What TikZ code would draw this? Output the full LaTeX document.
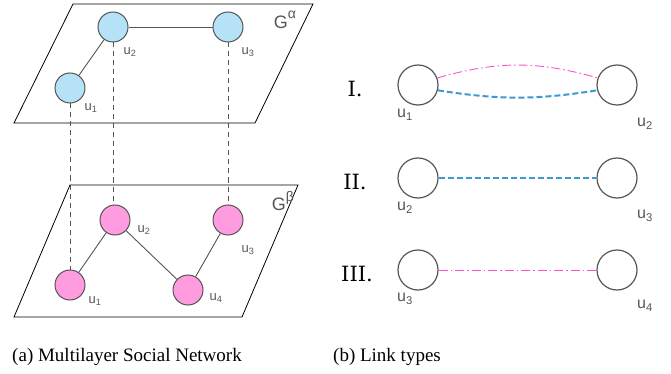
\documentclass[tikz,border=0pt]{standalone}
\usepackage{fontspec}
\setmainfont{Liberation Serif}
\newfontfamily\labelfont{Liberation Sans}
\newfontfamily\numfont{DejaVu Serif}
\usetikzlibrary{positioning,calc}

\definecolor{nodegray}{HTML}{555555}
\definecolor{bluefill}{HTML}{B5E2F7}
\definecolor{pinkfill}{HTML}{FF9BDF}
\definecolor{linkblue}{HTML}{3D9AD1}
\definecolor{linkpink}{HTML}{FF4FD2}

\newcommand{\layersup}[1]{G\raisebox{0.55em}{\fontsize{14}{16}\selectfont #1}}

\begin{document}
\begin{tikzpicture}[
  x=1pt, y=-1pt,
  plane/.style={draw=black, line width=0.8pt},
  user/.style={
    circle, draw=nodegray, line width=1pt,
    minimum size=30pt, inner sep=0pt
  },
  auser/.style={user, fill=bluefill},
  buser/.style={user, fill=pinkfill},
  kuser/.style={user, minimum size=40pt, line width=1.2pt},
  ulbl/.style={font=\labelfont\fontsize{13}{15}\selectfont, text=nodegray, inner sep=0pt},
  klbl/.style={font=\labelfont\fontsize{16}{18}\selectfont, text=nodegray, inner sep=0pt},
  glbl/.style={font=\labelfont\fontsize{18}{20}\selectfont, text=nodegray, inner sep=0pt},
  roman/.style={font=\numfont\fontsize{21}{24}\selectfont, inner sep=0pt},
  edge/.style={draw=nodegray, line width=0.9pt},
  align/.style={draw=nodegray, line width=0.9pt, dash pattern=on 5pt off 4pt},
  bluelink/.style={draw=linkblue, line width=2pt, dash pattern=on 6pt off 3pt},
  pinklink/.style={draw=linkpink, line width=0.9pt, dash pattern=on 9pt off 3pt on 1.5pt off 3pt},
  capt/.style={font=\fontsize{19}{21}\selectfont, inner sep=0pt}
]
\useasboundingbox (0,0) rectangle (671,374);

% -- Planos das camadas --
\draw[plane] (73,4) -- (313,4) -- (255,123) -- (14,123) -- cycle;
\draw[plane] (70,185) -- (298,185) -- (242,317) -- (14,317) -- cycle;
\node[glbl] (galpha) at (285,20) {\layersup{α}};
\node[glbl] (gbeta)  at (283,201) {\layersup{β}};

% -- Camada alpha --
\node[auser] (au1) at ( 70, 88) {};
\node[auser] (au2) at (113, 27) {};
\node[auser] (au3) at (228, 27) {};

% -- Camada beta --
\node[buser] (bu1) at ( 70,285) {};
\node[buser] (bu2) at (115,220) {};
\node[buser] (bu3) at (228,220) {};
\node[buser] (bu4) at (188,290) {};

% -- Ligacoes entre camadas --
\draw[align] (au1.south) -- (bu1.north);
\draw[align] (au2.south) -- (au2.south |- bu2.north);
\draw[align] (au3.south) -- (bu3.north);

% -- Arestas --
\draw[edge] (au1) -- (au2);
\draw[edge] (au2) -- (au3);
\draw[edge] (bu1) -- (bu2);
\draw[edge] (bu2) -- (bu4);
\draw[edge] (bu4) -- (bu3);

% -- Rotulos (a) --
\node[ulbl] (lau1) at ( 91,108) {u\textsubscript{1}};
\node[ulbl] (lau2) at (130, 52) {u\textsubscript{2}};
\node[ulbl] (lau3) at (248, 52) {u\textsubscript{3}};
\node[ulbl] (lbu1) at ( 95,301) {u\textsubscript{1}};
\node[ulbl] (lbu2) at (144,230) {u\textsubscript{2}};
\node[ulbl] (lbu3) at (248,250) {u\textsubscript{3}};
\node[ulbl] (lbu4) at (216,298) {u\textsubscript{4}};

% -- Tipos de ligacao --
\node[roman] (t1) at (355, 89) {I.};
\node[roman] (t2) at (355,182) {II.};
\node[roman] (t3) at (357,274) {III.};

\node[kuser] (k1a) at (418, 85) {};
\node[kuser] (k1b) at (617, 85) {};
\node[kuser] (k2a) at (418,178) {};
\node[kuser] (k2b) at (617,178) {};
\node[kuser] (k3a) at (418,270) {};
\node[kuser] (k3b) at (617,270) {};

\draw[pinklink] (k1a.20) to[bend left=16] (k1b.160);
\draw[bluelink] (k1a.-15) to[bend right=9] (k1b.195);
\draw[bluelink] (k2a) -- (k2b);
\draw[pinklink] (k3a) -- (k3b);

\node[klbl] (lk1a) at (405,115) {u\textsubscript{1}};
\node[klbl] (lk1b) at (645,124) {u\textsubscript{2}};
\node[klbl] (lk2a) at (405,208) {u\textsubscript{2}};
\node[klbl] (lk2b) at (645,216) {u\textsubscript{3}};
\node[klbl] (lk3a) at (405,299) {u\textsubscript{3}};
\node[klbl] (lk3b) at (645,306) {u\textsubscript{4}};

% -- Legendas --
\node[capt] (capa) at (127,357) {(a) Multilayer Social Network};
\node[capt] (capb) at (387,357) {(b) Link types};

\end{tikzpicture}
\end{document}
